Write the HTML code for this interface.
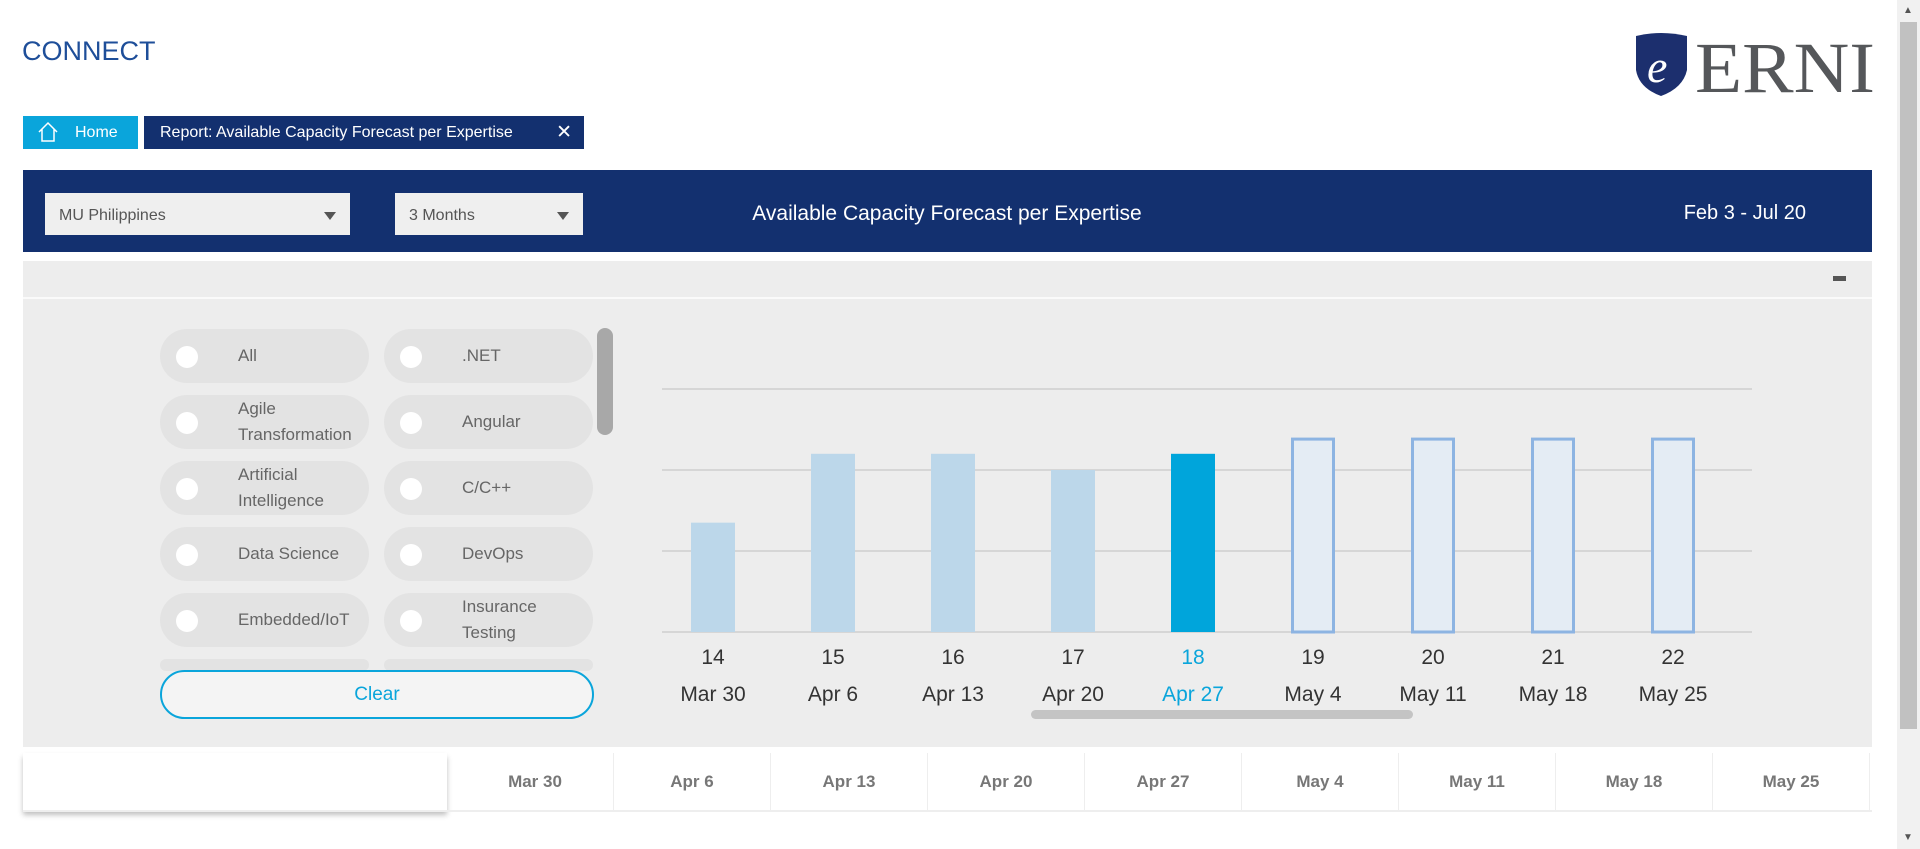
<!DOCTYPE html>
<html><head><meta charset="utf-8">
<style>
*{box-sizing:border-box;margin:0;padding:0}
body{width:1920px;height:849px;background:#fff;font-family:"Liberation Sans",sans-serif;position:relative;overflow:hidden}
.abs{position:absolute}
.pill{position:absolute;width:209px;height:54px;border-radius:27px;background:#e3e3e3}
.pill .dot{position:absolute;left:16px;top:17px;width:22px;height:22px;border-radius:50%;background:#fff}
.pill .lbl{position:absolute;left:78px;top:0;height:54px;display:flex;align-items:center;font-size:17px;color:#666;line-height:26px}
.sel{position:absolute;height:42px;background:#efefef;color:#555;font-size:16px;padding:14px 14px}
.sel .arr{position:absolute;right:14px;top:19px;border-left:6px solid transparent;border-right:6px solid transparent;border-top:8px solid #555}
.cell{position:absolute;top:753px;height:58px;width:157px;border-right:1px solid #eee;display:flex;align-items:center;justify-content:center;font-size:17px;font-weight:bold;color:#777}
</style></head><body>
<div class="abs" style="left:22px;top:36px;font-size:27px;color:#1e4e99">CONNECT</div>
<div class="abs" style="left:1633px;top:32px;width:245px;height:66px">
<svg width="245" height="66"><path d="M3 4 Q28 -2 54 4 L54 38 Q50 56 28 64 Q6 56 3 38 Z" fill="#1c2f6e"/><text x="14" y="50" font-family="Liberation Serif" font-style="italic" font-size="46" fill="#fff">e</text><text x="62" y="60" font-family="Liberation Serif" font-size="72" fill="#55575a" textLength="180" lengthAdjust="spacingAndGlyphs">ERNI</text></svg></div>
<div class="abs" style="left:23px;top:116px;width:115px;height:33px;background:#0aa5db;color:#fff;font-size:16px;padding:8px 0 0 52px">Home
<svg class="abs" style="left:14px;top:5px" width="22" height="22"><path d="M2 11 L11 2 L20 11 M5 8 V20 H17 V8" fill="none" stroke="#fff" stroke-width="1.5"/></svg></div>
<div class="abs" style="left:144px;top:116px;width:440px;height:33px;background:#13306f;color:#fff;font-size:16px;padding:8px 0 0 16px">Report: Available Capacity Forecast per Expertise<span style="position:absolute;right:12px;top:5px;font-size:19px">✕</span></div>
<div class="abs" style="left:23px;top:170px;width:1849px;height:82px;background:#13306f"></div>
<div class="sel" style="left:45px;top:193px;width:305px">MU Philippines<span class="arr"></span></div>
<div class="sel" style="left:395px;top:193px;width:188px">3 Months<span class="arr"></span></div>
<div class="abs" style="left:700px;width:494px;text-align:center;top:202px;font-size:21px;color:#fff">Available Capacity Forecast per Expertise</div>
<div class="abs" style="left:1600px;width:206px;text-align:right;top:202px;font-size:20px;color:#fff">Feb 3 - Jul 20</div>
<div class="abs" style="left:23px;top:261px;width:1849px;height:486px;background:#ededed"></div>
<div class="abs" style="left:23px;top:297px;width:1849px;height:2px;background:#fafafa"></div>
<div class="abs" style="left:1833px;top:276px;width:13px;height:5px;background:#555"></div>
<div id="pills"></div>
<div class="abs" style="left:597px;top:328px;width:16px;height:107px;border-radius:8px;background:#a8a8a8"></div>
<div class="abs" style="left:160px;top:670px;width:434px;height:49px;border:2px solid #0aa5db;border-radius:25px;background:#f4f4f4;color:#0aa5db;font-size:19px;text-align:center;line-height:45px">Clear</div>
<svg id="chart" class="abs" style="left:0;top:0" width="1920" height="849"></svg>
<div class="abs" style="left:1031px;top:710px;width:382px;height:9px;border-radius:5px;background:#c4c4c4"></div>
<div class="abs" style="left:23px;top:753px;width:424px;height:58px;background:#fff;box-shadow:0 4px 5px rgba(0,0,0,.25)"></div>
<div id="cells"></div>
<div class="abs" style="left:23px;top:810px;width:1849px;height:2px;background:#eee"></div>
<div class="abs" style="left:1897px;top:0;width:23px;height:849px;background:#f1f1f1"><div style="position:absolute;left:3px;top:22px;width:17px;height:707px;background:#c1c1c1"></div><div style="position:absolute;left:6px;top:5px;font-size:10px;color:#555">▲</div><div style="position:absolute;left:6px;top:832px;font-size:10px;color:#555">▼</div></div>
<script>
const weeks=["14","15","16","17","18","19","20","21","22"];
const dates=["Mar 30","Apr 6","Apr 13","Apr 20","Apr 27","May 4","May 11","May 18","May 25"];
const values=[1.35,2.2,2.2,2.0,2.2,2.4,2.4,2.4,2.4];
const kinds=["past","past","past","past","current","forecast","forecast","forecast","forecast"];
const yTicks=[0,1,2,3];
const expertise=["All",".NET","Agile<br>Transformation","Angular","Artificial<br>Intelligence","C/C++","Data Science","DevOps","Embedded/IoT","Insurance<br>Testing","",""];
const NS="http://www.w3.org/2000/svg";
const svg=document.getElementById('chart');
const x=i=>713+i*120, y=v=>632-v*81;
function mk(t,a){const e=document.createElementNS(NS,t);for(const k in a)e.setAttribute(k,a[k]);svg.appendChild(e);return e;}
yTicks.forEach(t=>{const l=mk('line',{x1:662,x2:1752,y1:y(t),y2:y(t),stroke:'#d6d6d6','stroke-width':2});

});
values.forEach((v,i)=>{let r;
if(kinds[i]==='forecast'){r=mk('rect',{x:x(i)-20.5,y:y(v)+1.5,width:41,height:y(0)-y(v)-1.5,fill:'#e4ecf4',stroke:'#8db4e2','stroke-width':3});}
else r=mk('rect',{x:x(i)-22,y:y(v),width:44,height:y(0)-y(v),fill:kinds[i]==='current'?'#00a5db':'#bcd7ea'});


const col=kinds[i]==='current'?'#0aa5db':'#333';
const t1=mk('text',{x:x(i),y:664,'text-anchor':'middle','font-size':21,fill:col,'font-family':'Liberation Sans'});t1.textContent=weeks[i];


const t2=mk('text',{x:x(i),y:701,'text-anchor':'middle','font-size':21,fill:col,'font-family':'Liberation Sans'});t2.textContent=dates[i];

});
const P=document.getElementById('pills');
expertise.forEach((n,i)=>{const d=document.createElement('div');d.className='pill';
const row=Math.floor(i/2),c=i%2;d.style.left=(c?384:160)+'px';d.style.top=(329+row*66)+'px';
if(row===5){d.style.height='12px';d.style.top='659px';d.innerHTML='';}
else d.innerHTML='<div class="dot"></div><div class="lbl">'+n+'</div>';


P.appendChild(d);});
const C=document.getElementById('cells');
dates.forEach((d,i)=>{const e=document.createElement('div');e.className='cell';e.style.left=(457+i*157)+'px';e.textContent=d;


C.appendChild(e);});
</script>
</body></html>
